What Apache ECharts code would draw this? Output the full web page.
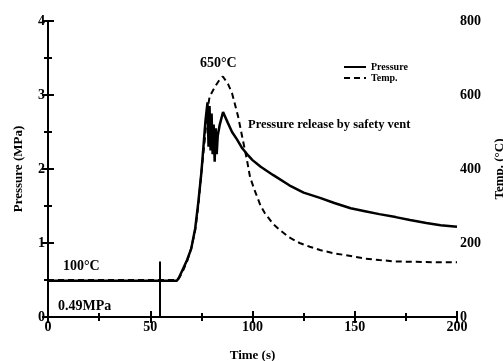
<!DOCTYPE html>
<html>
<head>
<meta charset="utf-8">
<script src="https://cdn.jsdelivr.net/npm/echarts@6/dist/echarts.min.js"></script>
<style>
  html, body { margin: 0; padding: 0; background: #fff; }
  #chart { width: 503px; height: 361px; }
</style>
</head>
<body>
<div id="chart"></div>
<script>
// pressure trace (MPa)
const pTime = [0, 63, 64, 66, 68, 70, 72, 73.5, 75, 76, 77, 78, 78.5, 79, 79.5, 80, 80.5, 81, 81.5, 82, 82.5, 83, 84, 85.6, 88, 90, 92.4, 95, 98, 100, 104, 110, 118, 125, 133, 140, 148, 155, 162, 170, 177, 185, 192, 200];
const pressure = [0.49, 0.49, 0.53, 0.65, 0.77, 0.92, 1.2, 1.55, 1.95, 2.3, 2.65, 2.9, 2.3, 2.85, 2.25, 2.75, 2.2, 2.6, 2.1, 2.55, 2.2, 2.45, 2.6, 2.77, 2.62, 2.5, 2.4, 2.28, 2.18, 2.12, 2.03, 1.92, 1.78, 1.68, 1.61, 1.54, 1.47, 1.43, 1.39, 1.35, 1.31, 1.27, 1.24, 1.22];
// temperature trace (°C)
const tTime = [0, 63, 64, 66, 68, 70, 72, 73.5, 75, 76.5, 78, 79, 81.6, 83.5, 85.5, 88, 90, 93, 95, 97.3, 98.8, 101, 104, 106, 110, 113.4, 118, 123, 128, 133, 140, 148, 155, 162, 170, 180, 190, 200];
const temp = [100, 100, 104, 125, 150, 185, 235, 300, 390, 470, 560, 595, 622, 638, 650, 630, 605, 541, 486, 424, 378, 343, 300, 281, 252, 235, 215, 200, 190, 181, 172, 165, 158, 154, 150, 149, 148, 148];
const ventTime = 54.5;
const ventTop = 0.75;

const serif = '"Liberation Serif", "DejaVu Serif", serif';
const chart = echarts.init(document.getElementById('chart'));

const axisBase = {
  axisLine: { show: true, lineStyle: { color: '#000', width: 2 } },
  axisTick: { show: true, inside: true, length: 6, lineStyle: { color: '#000', width: 2 } },
  minorTick: { show: true, splitNumber: 2, length: 4, lineStyle: { color: '#000', width: 2 } },
  splitLine: { show: false },
  axisLabel: { color: '#000', fontFamily: serif, fontWeight: 'bold', fontSize: 14, margin: 3 }
};

chart.setOption({
  animation: false,
  grid: { left: 48, right: 46, top: 21, bottom: 44, containLabel: false, outerBoundsMode: 'none' },
  legend: {
    orient: 'vertical',
    left: 338,
    top: 57,
    itemGap: 1,
    itemWidth: 22,
    itemHeight: 8,
    itemStyle: { opacity: 0 },
    textStyle: { color: '#000', fontFamily: serif, fontWeight: 'bold', fontSize: 10 },
    data: ['Pressure', 'Temp.']
  },
  xAxis: [
    Object.assign({}, axisBase, {
      type: 'value', min: 0, max: 200, interval: 50,
      name: 'Time (s)', nameLocation: 'middle', nameGap: 32,
      nameTextStyle: { color: '#000', fontFamily: serif, fontWeight: 'bold', fontSize: 13 }
    }),
    Object.assign({}, axisBase, {
      type: 'value', min: 0, max: 200, interval: 50, position: 'top',
      axisLabel: { show: false }
    })
  ],
  yAxis: [
    Object.assign({}, axisBase, {
      type: 'value', min: 0, max: 4, interval: 1,
      name: 'Pressure (MPa)', nameLocation: 'middle', nameGap: 23, nameRotate: 90,
      nameTextStyle: { color: '#000', fontFamily: serif, fontWeight: 'bold', fontSize: 13 }
    }),
    Object.assign({}, axisBase, {
      type: 'value', min: 0, max: 800, interval: 200, position: 'right',
      name: 'Temp. (°C)', nameLocation: 'middle', nameGap: 36, nameRotate: 90,
      nameTextStyle: { color: '#000', fontFamily: serif, fontWeight: 'bold', fontSize: 13 }
    })
  ],
  series: [
    {
      name: 'Pressure', type: 'line', yAxisIndex: 0,
      showSymbol: false, symbol: 'none',
      lineStyle: { color: '#000', width: 2.5 },
      itemStyle: { color: '#000' },
      data: pTime.map((t, i) => [t, pressure[i]]),
      markLine: {
        silent: true, symbol: 'none', label: { show: false },
        lineStyle: { color: '#000', width: 2, type: 'solid' },
        data: [[{ coord: [ventTime, 0] }, { coord: [ventTime, ventTop] }]]
      }
    },
    {
      name: 'Temp.', type: 'line', yAxisIndex: 1,
      showSymbol: false, symbol: 'none',
      lineStyle: { color: '#000', width: 2, type: [6, 4] },
      itemStyle: { color: '#000' },
      data: tTime.map((t, i) => [t, temp[i]])
    }
  ],
  graphic: [
    { type: 'text', left: 200, top: 56, style: { text: '650°C', fill: '#000', font: 'bold 14px ' + serif } },
    { type: 'text', left: 248, top: 118, style: { text: 'Pressure release by safety vent', fill: '#000', font: 'bold 12.5px ' + serif } },
    { type: 'text', left: 63, top: 259, style: { text: '100°C', fill: '#000', font: 'bold 14px ' + serif } },
    { type: 'text', left: 58, top: 299, style: { text: '0.49MPa', fill: '#000', font: 'bold 14px ' + serif } }
  ]
});
</script>
</body>
</html>
